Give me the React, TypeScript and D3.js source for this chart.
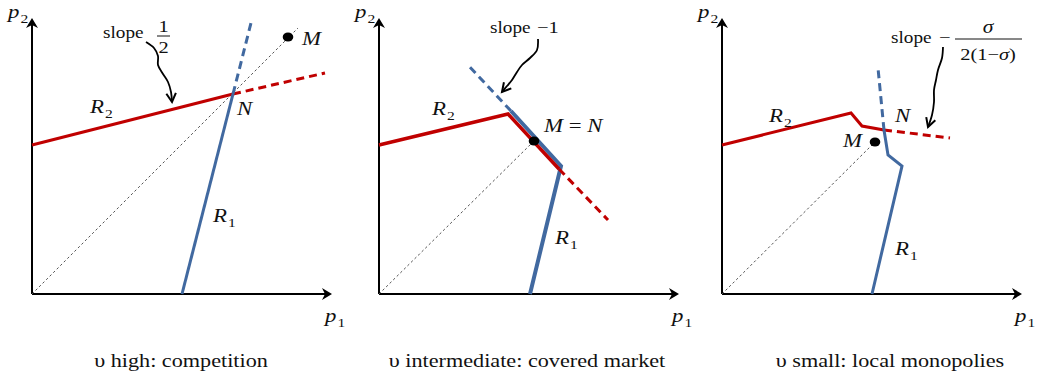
import React from "react";
import * as d3 from "d3";

type Pt = [number, number];

// panel 1 — high υ: competition
const compR2: Pt[] = [[0, 149], [201, 200]];
const compR2Ext: Pt[] = [[201, 200], [293, 221]];
const compR1: Pt[] = [[150, 0], [201, 200]];
const compR1Ext: Pt[] = [[201, 200], [219, 271]];
const compDiag: Pt[] = [[0, 0], [266, 266]];
const compM: Pt = [256, 257];
const compArrow: Pt[] = [[114, 252], [122, 246], [126, 238], [126, 229], [131, 220], [136, 212], [139, 202], [140, 192]];

// panel 2 — intermediate υ: covered market
const covR2: Pt[] = [[0, 149], [129, 180], [180, 125]];
const covR2Ext: Pt[] = [[180, 125], [229, 74]];
const covR1: Pt[] = [[151, 0], [182, 128], [132, 183]];
const covR1Ext: Pt[] = [[132, 183], [89, 229]];
const covDiag: Pt[] = [[0, 0], [155, 153]];
const covM: Pt = [155, 153];
const covArrow: Pt[] = [[159, 255], [158, 244], [151, 236], [143, 229], [138, 222], [133, 214], [128, 208], [123, 202]];

// panel 3 — small υ: local monopolies
const monR2: Pt[] = [[0, 149], [129, 181], [140, 168], [162, 164]];
const monR2Ext: Pt[] = [[162, 164], [228, 156]];
const monR1: Pt[] = [[150, 0], [180, 128], [166, 139], [162, 164]];
const monR1Ext: Pt[] = [[162, 164], [156, 226]];
const monDiag: Pt[] = [[0, 0], [153, 152]];
const monM: Pt = [153, 152];
const monArrow: Pt[] = [[221, 247], [220, 236], [216, 224], [214, 214], [212, 204], [212, 192], [210, 179], [206, 167]];

const captions = ["υ high: competition", "υ intermediate: covered market", "υ small: local monopolies"];
const origins = [32, 379, 722];
const captionX = [149, 148, 168];

const RED = "#C00000";
const BLUE = "#4169A0";
const FONT = "Liberation Serif";
const baseY = 294;

const yS = d3.scaleLinear().domain([0, 280]).range([baseY, baseY - 280]);

// text is drawn a bit wide, like the source picture
const Txt = ({ x, y, size = 19, anchor = "start", children }: any) => (
  <g transform={`translate(${x},${y}) scale(1.2,1)`}>
    <text style={{ fontFamily: FONT, fontSize: size }} textAnchor={anchor} fill="#111">
      {children}
    </text>
  </g>
);

const Sym = ({ x, y, v, sub, anchor = "start" }: any) => (
  <Txt x={x} y={y} anchor={anchor}>
    <tspan fontStyle="italic">{v}</tspan>
    {sub && (
      <tspan style={{ fontSize: 13 }} dy={5} dx={1}>
        {sub}
      </tspan>
    )}
  </Txt>
);

const Panel = ({ idx, r2, r2Ext, r1, r1Ext, diag, m, arrow, covered, children }: any) => {
  const ox = origins[idx];
  const xS = d3.scaleLinear().domain([0, 300]).range([ox, ox + 300]);
  const line = d3.line<Pt>().x((d) => xS(d[0])).y((d) => yS(d[1]));
  const curvy = d3
    .line<Pt>()
    .x((d) => xS(d[0]))
    .y((d) => yS(d[1]))
    .curve(d3.curveCatmullRom.alpha(0.5));

  const n = arrow.length;
  const tip = [xS(arrow[n - 1][0]), yS(arrow[n - 1][1])];
  const prev = [xS(arrow[n - 2][0]), yS(arrow[n - 2][1])];
  const ang = Math.atan2(tip[1] - prev[1], tip[0] - prev[0]);
  const head = [ang + Math.PI - 0.5, ang + Math.PI + 0.5].map((a) => [tip[0] + 10 * Math.cos(a), tip[1] + 10 * Math.sin(a)]);

  const x0 = xS(0);
  const y0 = yS(0);
  const yTop = yS(276);
  const xEnd = xS(300);

  return (
    <g>
      {/* axes */}
      <line x1={x0} y1={y0} x2={x0} y2={yTop + 6} stroke="#000" strokeWidth={2} />
      <line x1={x0} y1={y0} x2={xEnd - 6} y2={y0} stroke="#000" strokeWidth={2} />
      <path d={`M${x0},${yTop} l-6,10 l6,-3 l6,3 z`} fill="#000" />
      <path d={`M${xEnd},${y0} l-10,-6 l3,6 l-3,6 z`} fill="#000" />

      <path d={line(diag) ?? ""} stroke="#555" strokeWidth={1} strokeDasharray="2.5,2.5" fill="none" />

      {covered ? (
        <>
          <path d={line(r1) ?? ""} stroke={BLUE} strokeWidth={4} fill="none" />
          <path d={line(r1Ext) ?? ""} stroke={BLUE} strokeWidth={3} strokeDasharray="8,5" fill="none" />
          <path d={line(r2) ?? ""} stroke={RED} strokeWidth={3.5} fill="none" />
          <path d={line(r2Ext) ?? ""} stroke={RED} strokeWidth={3} strokeDasharray="8,5" fill="none" />
        </>
      ) : (
        <>
          <path d={line(r2) ?? ""} stroke={RED} strokeWidth={3} fill="none" />
          <path d={line(r2Ext) ?? ""} stroke={RED} strokeWidth={3} strokeDasharray="8,5" fill="none" />
          <path d={line(r1) ?? ""} stroke={BLUE} strokeWidth={3} fill="none" />
          <path d={line(r1Ext) ?? ""} stroke={BLUE} strokeWidth={3} strokeDasharray="8,5" fill="none" />
        </>
      )}

      <ellipse cx={xS(m[0])} cy={yS(m[1])} rx={5.3} ry={4.6} fill="#000" />

      <path d={curvy(arrow) ?? ""} stroke="#000" strokeWidth={1.8} fill="none" />
      <path
        d={`M${head[0][0]},${head[0][1]} L${tip[0]},${tip[1]} L${head[1][0]},${head[1][1]}`}
        stroke="#000"
        strokeWidth={2}
        fill="none"
      />

      <Sym x={xS(-24)} y={yS(276)} v="p" sub="2" />
      <Sym x={xS(293)} y={yS(-28)} v="p" sub="1" />
      <Txt x={xS(captionX[idx])} y={yS(-73)} size={18.5} anchor="middle">
        {captions[idx]}
      </Txt>
      {children(xS)}
    </g>
  );
};

export default function App() {
  return (
    <div style={{ position: "absolute", left: 0, top: 0, background: "#fff" }}>
      <svg width={1037} height={382} style={{ display: "block" }}>
        <rect width={1037} height={382} fill="#fff" />

        <Panel idx={0} r2={compR2} r2Ext={compR2Ext} r1={compR1} r1Ext={compR1Ext} diag={compDiag} m={compM} arrow={compArrow}>
          {(xS: any) => (
            <>
              <Sym x={xS(58)} y={yS(181)} v="R" sub="2" />
              <Sym x={xS(181)} y={yS(72)} v="R" sub="1" />
              <Sym x={xS(205)} y={yS(179)} v="N" />
              <Sym x={xS(270)} y={yS(249)} v="M" />
              <Txt x={xS(71)} y={yS(256)} size={16}>slope</Txt>
              <Txt x={xS(131.5)} y={yS(262)} size={17} anchor="middle">1</Txt>
              <line x1={xS(125)} x2={xS(138)} y1={yS(258)} y2={yS(258)} stroke="#111" strokeWidth={1} />
              <Txt x={xS(131.5)} y={yS(241)} size={17} anchor="middle">2</Txt>
            </>
          )}
        </Panel>

        <Panel idx={1} r2={covR2} r2Ext={covR2Ext} r1={covR1} r1Ext={covR1Ext} diag={covDiag} m={covM} arrow={covArrow} covered>
          {(xS: any) => (
            <>
              <Sym x={xS(53)} y={yS(179)} v="R" sub="2" />
              <Sym x={xS(176)} y={yS(50)} v="R" sub="1" />
              <Txt x={xS(165)} y={yS(162)}>
                <tspan fontStyle="italic">M</tspan> = <tspan fontStyle="italic">N</tspan>
              </Txt>
              <Txt x={xS(111)} y={yS(261)} size={16}>slope</Txt>
              <Txt x={xS(158)} y={yS(261)} size={17}>−1</Txt>
            </>
          )}
        </Panel>

        <Panel idx={2} r2={monR2} r2Ext={monR2Ext} r1={monR1} r1Ext={monR1Ext} diag={monDiag} m={monM} arrow={monArrow}>
          {(xS: any) => (
            <>
              <Sym x={xS(47)} y={yS(172)} v="R" sub="2" />
              <Sym x={xS(173)} y={yS(39)} v="R" sub="1" />
              <Sym x={xS(173)} y={yS(172)} v="N" />
              <Sym x={xS(140)} y={yS(147)} v="M" anchor="end" />
              <Txt x={xS(169)} y={yS(251)} size={16}>slope</Txt>
              <Txt x={xS(217)} y={yS(251)} size={17}>−</Txt>
              <Txt x={xS(266)} y={yS(261)} size={18} anchor="middle">
                <tspan fontStyle="italic">σ</tspan>
              </Txt>
              <line x1={xS(233)} x2={xS(300)} y1={yS(255)} y2={yS(255)} stroke="#111" strokeWidth={1} />
              <Txt x={xS(266)} y={yS(234)} size={17} anchor="middle">
                2(1−<tspan fontStyle="italic">σ</tspan>)
              </Txt>
            </>
          )}
        </Panel>
      </svg>
    </div>
  );
}
